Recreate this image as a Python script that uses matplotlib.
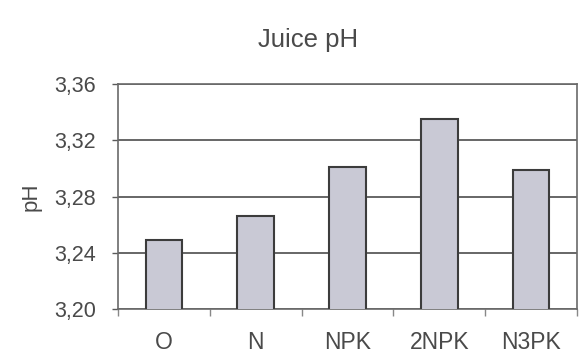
import numpy as np
import matplotlib
matplotlib.use("Agg")
import matplotlib.pyplot as plt

plt.rcParams['font.family'] = ['Liberation Sans', 'DejaVu Sans']

# data
treatments = ["O", "N", "NPK", "2NPK", "N3PK"]
ph_values = [3.249, 3.266, 3.301, 3.335, 3.299]
y_ticks = [3.20, 3.24, 3.28, 3.32, 3.36]
y_tick_labels = ["3,20", "3,24", "3,28", "3,32", "3,36"]

text_col = "#4a4a4a"
line_col = "#5a5a5a"

fig = plt.figure(figsize=(5.8, 3.58), dpi=100)
ax = fig.add_axes([118/580, 1 - 309/358, (577-118)/580, (309-84)/358])

x = np.arange(len(treatments))
ax.bar(x, ph_values, width=0.4, bottom=0, color="#c9c9d5",
       edgecolor="#3c3c3c", linewidth=1.5, zorder=3)

ax.set_xlim(-0.5, len(treatments) - 0.5)
ax.set_ylim(y_ticks[0], y_ticks[-1])
ax.set_yticks(y_ticks)
ax.set_yticklabels(y_tick_labels)
ax.set_xticks(x)
ax.set_xticklabels(treatments)
ax.set_xticks(np.arange(len(treatments) + 1) - 0.5, minor=True)

ax.yaxis.grid(True, color=line_col, linewidth=1.3, zorder=0)
ax.set_axisbelow(True)

ax.tick_params(axis='y', which='major', length=4, width=1, color=line_col,
               pad=12, labelsize=15.5, labelcolor=text_col)
ax.tick_params(axis='x', which='major', length=0, pad=16,
               labelsize=16.5, labelcolor=text_col)
ax.tick_params(axis='x', which='minor', length=5, width=1, color="#888888")

for s in ax.spines.values():
    s.set_color("#6a6a6a")
    s.set_linewidth(1.2)

ax.set_ylabel("pH", fontsize=16, color=text_col, labelpad=9)
fig.text(308/580, 1 - 40/358, "Juice pH", ha="center", va="center",
         fontsize=18.5, color=text_col)

fig.savefig("out.png", dpi=100, facecolor="white")
